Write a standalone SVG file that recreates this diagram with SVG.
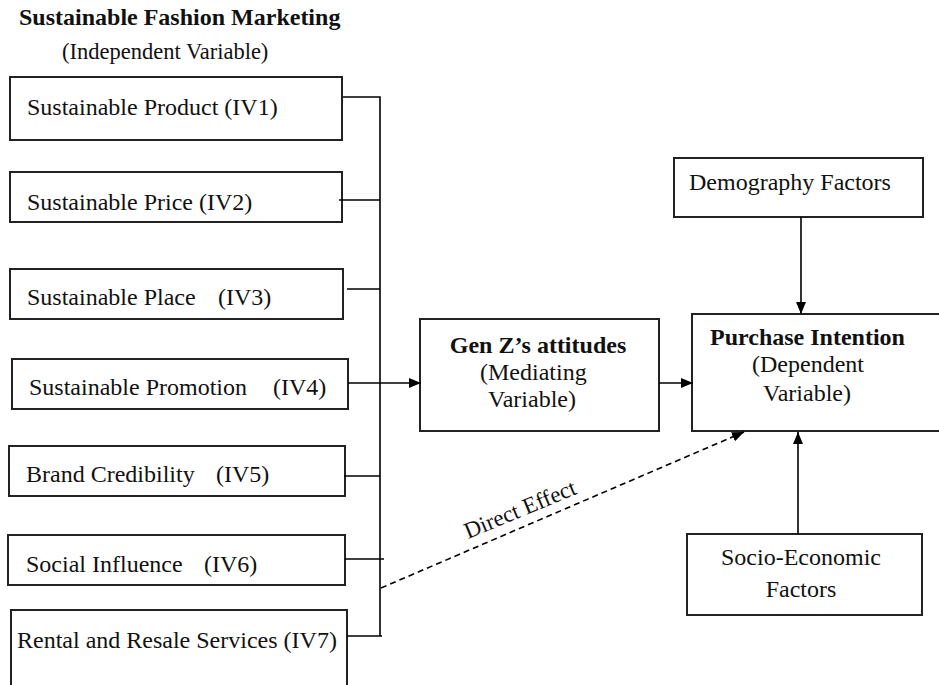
<svg xmlns="http://www.w3.org/2000/svg" width="939" height="685" viewBox="0 0 939 685">
  <defs>
    <marker id="arrow" viewBox="0 0 12 10" refX="12" refY="5" markerWidth="12" markerHeight="10" markerUnits="userSpaceOnUse" orient="auto">
      <path d="M0,0 L12,5 L0,10 Z" fill="#000"/>
    </marker>
    <style>
      .box { fill: #fff; stroke: #222; stroke-width: 2; }
      .lbl { font-family: "Liberation Serif", "Times New Roman", serif; font-size: 24px; fill: #111; }
      .bold { font-weight: bold; }
      .conn { fill: none; stroke: #000; stroke-width: 1.6; }
      .dash { stroke-dasharray: 6 4; }
    </style>
  </defs>
  <rect width="939" height="685" fill="#fff"/>

  <!-- heading -->
  <text class="lbl bold" x="19" y="25">Sustainable Fashion Marketing</text>
  <text class="lbl" x="62" y="59" style="font-size:22.5px">(Independent Variable)</text>

  <!-- independent variables -->
  <g id="iv1">
    <rect class="box" x="10" y="77" width="332" height="63"/>
    <text class="lbl" x="27" y="115">Sustainable Product (IV1)</text>
  </g>
  <g id="iv2">
    <rect class="box" x="10" y="172" width="332" height="50"/>
    <text class="lbl" x="27" y="210">Sustainable Price (IV2)</text>
  </g>
  <g id="iv3">
    <rect class="box" x="10" y="269" width="333" height="50"/>
    <text class="lbl" x="27" y="305">Sustainable Place<tspan x="218">(IV3)</tspan></text>
  </g>
  <g id="iv4">
    <rect class="box" x="12" y="359" width="336" height="50"/>
    <text class="lbl" x="29" y="395">Sustainable Promotion<tspan x="273">(IV4)</tspan></text>
  </g>
  <g id="iv5">
    <rect class="box" x="9" y="446" width="336" height="50"/>
    <text class="lbl" x="26" y="482">Brand Credibility<tspan x="216">(IV5)</tspan></text>
  </g>
  <g id="iv6">
    <rect class="box" x="8" y="535" width="337" height="50"/>
    <text class="lbl" x="26" y="572">Social Influence<tspan x="204">(IV6)</tspan></text>
  </g>
  <g id="iv7">
    <rect class="box" x="11" y="610" width="336" height="90"/>
    <text class="lbl" x="17" y="648">Rental and Resale Services (IV7)</text>
  </g>

  <!-- mediator -->
  <g id="mediator">
    <rect class="box" x="420" y="319" width="239" height="112"/>
    <text class="lbl bold" x="538" y="353" text-anchor="middle">Gen Z’s attitudes</text>
    <text class="lbl" x="480" y="380">(Mediating</text>
    <text class="lbl" x="488" y="407">Variable)</text>
  </g>

  <!-- dependent variable -->
  <g id="dependent">
    <rect class="box" x="692" y="314" width="260" height="117"/>
    <text class="lbl bold" x="710" y="345">Purchase Intention</text>
    <text class="lbl" x="752" y="372">(Dependent</text>
    <text class="lbl" x="763" y="401">Variable)</text>
  </g>

  <!-- control factors -->
  <g id="demography">
    <rect class="box" x="674" y="158" width="249" height="59"/>
    <text class="lbl" x="689" y="190">Demography Factors</text>
  </g>
  <g id="socio">
    <rect class="box" x="687" y="534" width="235" height="81"/>
    <text class="lbl" x="801" y="565" text-anchor="middle">Socio-Economic</text>
    <text class="lbl" x="801" y="597" text-anchor="middle">Factors</text>
  </g>

  <!-- connectors -->
  <g id="connectors">
    <path class="conn" d="M343,97 H380 V636"/>
    <path class="conn" d="M339,200 H380"/>
    <path class="conn" d="M347,289 H380"/>
    <path class="conn" d="M344,476 H380"/>
    <path class="conn" d="M345,559 H384"/>
    <path class="conn" d="M347,636 H382"/>
    <path class="conn" d="M348,383 H421" marker-end="url(#arrow)"/>
    <path class="conn" d="M659,383 H693" marker-end="url(#arrow)"/>
    <path class="conn" d="M801,217 V314" marker-end="url(#arrow)"/>
    <path class="conn" d="M798,534 V432" marker-end="url(#arrow)"/>
    <path class="conn dash" d="M381,588 L744,432" marker-end="url(#arrow)"/>
    <text class="lbl" x="0" y="0" style="font-size:23px" transform="translate(468,539) rotate(-22.5)">Direct Effect</text>
  </g>
</svg>
